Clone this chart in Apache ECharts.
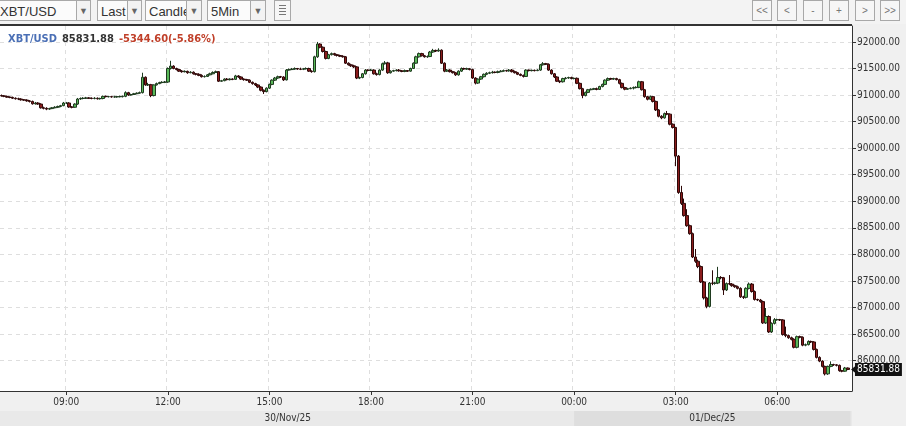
<!DOCTYPE html>
<html>
<head>
<meta charset="utf-8">
<script src="https://cdn.jsdelivr.net/npm/echarts@6/dist/echarts.min.js"></script>
<style>
  html, body { margin: 0; padding: 0; width: 906px; height: 426px; overflow: hidden; background: #f0f0f0; }
  #tb { position: absolute; left: 0; top: 0; width: 906px; height: 24px; background: #f3f3f3; z-index: 2; font-family: "Liberation Sans", Arial, sans-serif; }
  .box { position: absolute; top: 0; height: 21px; border: 1px solid #a8a8a8; background: #fbfbfb; color: #333; font-size: 13px; line-height: 21px; padding-left: 3px; box-sizing: border-box; overflow: hidden; white-space: nowrap; }
  .dd { position: absolute; top: 0; height: 21px; border: 1px solid #a8a8a8; background: #f3f3f3; color: #666; font-size: 9px; line-height: 21px; text-align: center; box-sizing: border-box; }
  .nav { position: absolute; top: 0; width: 20px; height: 21px; border: 1px solid #a8a8a8; background: #f6f6f6; color: #777; font-size: 10px; line-height: 20px; text-align: center; box-sizing: border-box; }
  #topline { position: absolute; left: 0; top: 24px; width: 852px; height: 2px; background: #333; z-index: 2; }
  #daterow { position: absolute; left: 0; top: 411px; width: 852px; height: 15px; background: #e9e9e9; }
  #chart { position: absolute; left: 0; top: 0; width: 906px; height: 426px; z-index: 1; }
  .icon { position: absolute; left: 274px; top: 0; width: 17px; height: 21px; border: 1px solid #a8a8a8; background: #f6f6f6; box-sizing: border-box; }
  .icon i { position: absolute; left: 4px; width: 7px; height: 1px; background: #777; }
</style>
</head>
<body>
<div id="daterow"></div>
<div id="chart"></div>
<div id="tb">
  <div class="box" style="left:-4px;width:81px;">XBT/USD</div><div class="dd" style="left:76px;width:15px;">▼</div>
  <div class="box" style="left:97px;width:31px;">Last</div><div class="dd" style="left:127px;width:15px;">▼</div>
  <div class="box" style="left:145px;width:42px;">Candle</div><div class="dd" style="left:186px;width:16px;">▼</div>
  <div class="box" style="left:207px;width:44px;">5Min</div><div class="dd" style="left:250px;width:16px;">▼</div>
  <div class="icon"><i style="top:4px"></i><i style="top:7px"></i><i style="top:10px"></i><i style="top:13px"></i></div>
  <div class="nav" style="left:752px;">&lt;&lt;</div>
  <div class="nav" style="left:777px;">&lt;</div>
  <div class="nav" style="left:803px;">-</div>
  <div class="nav" style="left:829px;">+</div>
  <div class="nav" style="left:855px;">&gt;</div>
  <div class="nav" style="left:880px;">&gt;&gt;</div>
</div>
<div id="topline"></div>
<script>
// ---------------- data ----------------
const symbolName = 'XBT/USD';
const changeText = '-5344.60(-5.86%)';
const firstDate = '2025-11-30';
const secondDate = '2025-12-01';
const firstCandleTime = '07:05';
const slotCount = 302;              // 5-minute slots spanning the x axis
const dayLabels = ['30/Nov/25', '01/Dec/25'];
const xTickLabels = ['09:00', '12:00', '15:00', '18:00', '21:00', '00:00', '03:00', '06:00'];
const yTickValues = [86000, 86500, 87000, 87500, 88000, 88500, 89000, 89500, 90000, 90500, 91000, 91500, 92000];
const yMin = 85427;
const yMax = 92300;
const firstOpen = 90990;

const closes = [
  90985, 90975, 90960, 90955, 90940, 90930, 90925, 90910, 90905, 90890,
  90880, 90835, 90850, 90830, 90760, 90750, 90735, 90745, 90760, 90770,
  90785, 90800, 90850, 90850, 90775, 90770, 90830, 90925, 90935, 90940,
  90945, 90940, 90935, 90940, 90930, 90935, 90975, 90970, 90970, 90965,
  90965, 90970, 90970, 90975, 91045, 91000, 91010, 91025, 91035, 91045,
  91335, 91190, 91195, 90990, 91190, 91215, 91235, 91240, 91245, 91500,
  91545, 91500, 91480, 91450, 91440, 91445, 91420, 91430, 91400, 91390,
  91370, 91345, 91350, 91380, 91400, 91425, 91440, 91260, 91270, 91300,
  91290, 91300, 91295, 91360, 91340, 91300, 91290, 91280, 91240, 91215,
  91190, 91150, 91090, 91065, 91130, 91200, 91280, 91320, 91345, 91340,
  91285, 91470, 91480, 91490, 91500, 91490, 91485, 91495, 91500, 91450, 91440,
  91720, 91960, 91900, 91820, 91690, 91760, 91780, 91760, 91745, 91730,
  91720, 91600, 91570, 91550, 91530, 91320, 91330, 91400, 91470, 91465,
  91470, 91400, 91385, 91470, 91590, 91605, 91420, 91450, 91460, 91470,
  91455, 91445, 91460, 91450, 91500, 91600, 91720, 91780, 91740, 91720,
  91725, 91810, 91840, 91830, 91845, 91600, 91450, 91470, 91440, 91420,
  91380, 91450, 91500, 91490, 91495, 91480, 91320, 91225, 91300, 91345,
  91390, 91410, 91420, 91430, 91425, 91440, 91450, 91460, 91455, 91470,
  91440, 91420, 91390, 91370, 91350, 91470, 91460, 91465, 91460, 91470,
  91570, 91590, 91580, 91470, 91400, 91340, 91260, 91250, 91310, 91320,
  91330, 91310, 91315, 91220, 91120, 90990, 91050, 91100, 91110, 91120,
  91105, 91160, 91200, 91280, 91310, 91300, 91310, 91290, 91220, 91140,
  91110, 91120, 91130, 91140, 91145, 91250, 91100, 90970, 90920, 90970, 90880,
  90720, 90600, 90570, 90650, 90640, 90450, 90390, 89850, 89165, 88960,
  88730, 88540, 88390, 87950, 87870, 87770, 87480, 87180, 87020, 87460,
  87455, 87460, 87565, 87560, 87330, 87450, 87440, 87410, 87390, 87360,
  87200, 87190, 87360, 87440, 87300, 87150, 87140, 87110, 86710, 86830,
  86540, 86700, 86770, 86770, 86765, 86490, 86470, 86430, 86400, 86250,
  86450, 86440, 86290, 86300, 86360, 86350, 86210, 86060, 85990, 85890,
  85750, 85890, 85925, 85920, 85910, 85810, 85800, 85860, 85831.88
];

const highs = [
  91010, 91000, 90990, 90975, 90970, 90955, 90950, 90940, 90925, 90920,
  90905, 90895, 90870, 90865, 90845, 90780, 90770, 90760, 90775, 90790,
  90800, 90815, 90870, 90870, 90865, 90790, 90845, 90945, 90955, 90960,
  90965, 90960, 90955, 90960, 90955, 90950, 90990, 90990, 90985, 90985,
  90985, 90985, 90990, 90990, 91070, 91060, 91025, 91040, 91050, 91065,
  91420, 91350, 91230, 91210, 91200, 91235, 91250, 91260, 91265, 91520,
  91645, 91560, 91515, 91495, 91470, 91465, 91460, 91450, 91445, 91415,
  91410, 91390, 91370, 91395, 91420, 91445, 91460, 91450, 91285, 91315,
  91320, 91315, 91315, 91380, 91375, 91355, 91315, 91305, 91295, 91255,
  91230, 91205, 91165, 91105, 91145, 91215, 91295, 91340, 91365, 91360,
  91355, 91490, 91500, 91510, 91520, 91510, 91515, 91510, 91520, 91515, 91465,
  91740, 92000, 91975, 91915, 91835, 91775, 91800, 91795, 91775, 91760,
  91750, 91735, 91615, 91590, 91570, 91545, 91345, 91415, 91490, 91485,
  91490, 91485, 91420, 91485, 91610, 91640, 91625, 91465, 91475, 91485,
  91490, 91470, 91480, 91470, 91515, 91615, 91740, 91800, 91795, 91755,
  91745, 91830, 91870, 91855, 91880, 91860, 91615, 91490, 91485, 91455,
  91435, 91465, 91520, 91515, 91515, 91510, 91495, 91335, 91315, 91360,
  91405, 91430, 91440, 91455, 91445, 91460, 91470, 91480, 91475, 91490,
  91490, 91460, 91435, 91405, 91385, 91485, 91480, 91480, 91480, 91485,
  91585, 91620, 91605, 91595, 91485, 91415, 91355, 91275, 91325, 91340,
  91345, 91345, 91330, 91330, 91235, 91135, 91065, 91115, 91125, 91135,
  91140, 91175, 91215, 91295, 91330, 91325, 91325, 91325, 91305, 91235,
  91155, 91135, 91145, 91160, 91165, 91270, 91265, 91115, 90985, 90990, 90985,
  90895, 90735, 90620, 90670, 90700, 90655, 90465, 90400, 89870, 89290,
  89050, 88850, 88560, 88410, 88100, 87900, 87790, 87500, 87200, 87480,
  87700, 87480, 87765, 87590, 87575, 87470, 87610, 87460, 87430, 87410,
  87380, 87220, 87380, 87470, 87460, 87320, 87165, 87160, 87130, 86990,
  86850, 86720, 86800, 86790, 86785, 86780, 86640, 86490, 86450, 86420,
  86470, 86470, 86455, 86320, 86380, 86375, 86365, 86225, 86080, 86005,
  85905, 85905, 85985, 85940, 85935, 85925, 85825, 85880, 85870
];

const lows = [
  90970, 90960, 90950, 90940, 90925, 90915, 90905, 90895, 90890, 90875,
  90860, 90820, 90820, 90815, 90745, 90730, 90715, 90720, 90735, 90750,
  90755, 90770, 90790, 90830, 90760, 90750, 90760, 90815, 90910, 90920,
  90925, 90925, 90920, 90920, 90915, 90915, 90920, 90955, 90955, 90950,
  90950, 90950, 90955, 90955, 90960, 90985, 90990, 91000, 91015, 91025,
  91030, 91175, 91170, 90960, 90975, 91180, 91205, 91220, 91225, 91230,
  91480, 91485, 91465, 91435, 91420, 91425, 91400, 91410, 91385, 91370,
  91355, 91330, 91330, 91340, 91370, 91390, 91415, 91245, 91250, 91260,
  91275, 91275, 91280, 91285, 91325, 91285, 91270, 91265, 91225, 91195,
  91170, 91130, 91070, 91020, 91050, 91115, 91185, 91265, 91305, 91320,
  91265, 91275, 91460, 91470, 91475, 91475, 91470, 91470, 91480, 91435, 91420,
  91425, 91700, 91880, 91800, 91670, 91675, 91745, 91740, 91725, 91715,
  91705, 91585, 91555, 91530, 91510, 91300, 91300, 91315, 91385, 91445,
  91450, 91385, 91365, 91370, 91455, 91575, 91400, 91405, 91440, 91445,
  91440, 91430, 91430, 91435, 91440, 91490, 91590, 91705, 91725, 91705,
  91700, 91715, 91795, 91810, 91815, 91585, 91430, 91435, 91425, 91405,
  91360, 91365, 91435, 91475, 91475, 91465, 91305, 91200, 91210, 91285,
  91330, 91375, 91395, 91405, 91410, 91410, 91430, 91440, 91440, 91440,
  91425, 91405, 91375, 91355, 91330, 91340, 91445, 91445, 91445, 91450,
  91455, 91555, 91565, 91455, 91385, 91320, 91245, 91225, 91235, 91295,
  91305, 91295, 91295, 91205, 91105, 90940, 90975, 91035, 91090, 91095,
  91090, 91095, 91145, 91185, 91265, 91285, 91285, 91275, 91200, 91125,
  91090, 91095, 91110, 91105, 91125, 91130, 91085, 90950, 90900, 90905, 90860,
  90700, 90580, 90545, 90555, 90620, 90430, 90370, 89660, 89140, 88930,
  88710, 88520, 88370, 87930, 87840, 87740, 87460, 87150, 86985, 87000,
  87420, 87430, 87440, 87530, 87235, 87310, 87420, 87390, 87370, 87340,
  87180, 87160, 87170, 87340, 87280, 87130, 87120, 87090, 86690, 86690,
  86520, 86520, 86680, 86750, 86745, 86470, 86440, 86410, 86380, 86230,
  86230, 86420, 86270, 86270, 86285, 86330, 86190, 86040, 85970, 85870,
  85720, 85730, 85875, 85900, 85890, 85790, 85780, 85790, 85820
];

// ---------------- build ----------------
const pad = n => (n < 10 ? '0' : '') + n;
const categories = [];
{
  const [h0, m0] = firstCandleTime.split(':').map(Number);
  let mins = h0 * 60 + m0;
  for (let i = 0; i < slotCount; i++) {
    const day = mins >= 1440 ? secondDate : firstDate;
    const t = mins % 1440;
    categories.push(day + ' ' + pad(Math.floor(t / 60)) + ':' + pad(t % 60));
    mins += 5;
  }
}
const timeOf = c => c.slice(11);
const isTick = (idx, val) => xTickLabels.indexOf(timeOf(val)) >= 0;
const dayStart = categories.findIndex(c => c.startsWith(secondDate));

const candles = closes.map((c, i) => {
  const o = i === 0 ? firstOpen : closes[i - 1];
  return [o, c, Math.min(lows[i], o, c), Math.max(highs[i], o, c)];
});
const lastClose = closes[closes.length - 1];

const FONT = '"DejaVu Sans Condensed", "DejaVu Sans", sans-serif';

const chart = echarts.init(document.getElementById('chart'), null, { renderer: 'canvas' });
chart.setOption({
  animation: false,
  backgroundColor: 'transparent',
  title: {
    left: 3, top: 25,
    text: '{s|' + symbolName + '} {p|' + lastClose.toFixed(2) + '} {c|' + changeText + '}',
    textStyle: {
      rich: {
        s: { color: '#4a6fb5', fontWeight: 'bold', fontSize: 11, fontFamily: FONT },
        p: { color: '#333333', fontWeight: 'bold', fontSize: 11, fontFamily: FONT },
        c: { color: '#c0402a', fontWeight: 'bold', fontSize: 11, fontFamily: FONT }
      }
    }
  },
  grid: [
    { left: 0, right: 54, top: 26, bottom: 35, show: true, backgroundColor: '#ffffff', borderWidth: 0 },
    { left: 0, right: 54, top: 411, height: 15, show: false }
  ],
  xAxis: [
    {
      type: 'category', gridIndex: 0, data: categories, boundaryGap: true,
      axisLine: { show: true, lineStyle: { color: '#333', width: 1 } },
      axisTick: { show: true, alignWithLabel: true, interval: isTick, length: 4, lineStyle: { color: '#333' } },
      axisLabel: { interval: isTick, formatter: v => timeOf(v), color: '#333', fontSize: 10, fontFamily: FONT, margin: 6 },
      splitLine: { show: true, interval: isTick, lineStyle: { color: '#dedede', type: [4, 4] } }
    },
    {
      type: 'category', gridIndex: 1, data: categories, boundaryGap: true, show: false
    }
  ],
  yAxis: [
    {
      type: 'value', gridIndex: 0, position: 'right', min: yMin, max: yMax, scale: true,
      axisLine: { show: true, lineStyle: { color: '#333', width: 1 } },
      axisTick: { show: true, length: 4, customValues: yTickValues, lineStyle: { color: '#333' } },
      axisLabel: { customValues: yTickValues, formatter: v => v.toFixed(2), color: '#333', fontSize: 10, fontFamily: FONT, margin: 5 },
      splitLine: { show: true, lineStyle: { color: '#dedede', type: [4, 4] } }
    },
    { type: 'value', gridIndex: 1, min: 0, max: 1, show: false }
  ],
  series: [
    {
      type: 'candlestick', xAxisIndex: 0, yAxisIndex: 0,
      data: candles, barWidth: 3,
      itemStyle: {
        color: '#59b959', color0: '#8b1c1c',
        borderColor: '#1f3a1f', borderColor0: '#2e0808', borderWidth: 1
      },
      markLine: {
        silent: true, symbol: 'none',
        lineStyle: { color: 'rgba(0,0,0,0)', width: 0, type: 'solid' },
        emphasis: { disabled: true },
        label: {
          show: true, position: 'end', distance: 3, formatter: () => lastClose.toFixed(2),
          color: '#ffffff', backgroundColor: '#111111', padding: [2, 2, 1, 2],
          fontSize: 10, fontFamily: FONT, opacity: 1
        },
        data: [{ yAxis: lastClose }]
      },
      markPoint: {
        silent: true, symbol: 'triangle', symbolSize: [8, 5], symbolRotate: 90, symbolOffset: [3, 0],
        itemStyle: { color: '#111' }, label: { show: false },
        data: [{ coord: [slotCount - 1, lastClose] }]
      }
    },
    {
      type: 'line', xAxisIndex: 1, yAxisIndex: 1, data: [], silent: true,
      markArea: {
        silent: true,
        label: { position: 'inside', color: '#333', fontSize: 10, fontFamily: FONT },
        data: [
          [{ name: dayLabels[0], xAxis: 0, itemStyle: { color: 'rgba(0,0,0,0)' } }, { xAxis: dayStart }],
          [{ name: dayLabels[1], xAxis: dayStart, itemStyle: { color: '#dedede' } }, { xAxis: slotCount - 1 }]
        ]
      }
    }
  ]
});
</script>
</body>
</html>
